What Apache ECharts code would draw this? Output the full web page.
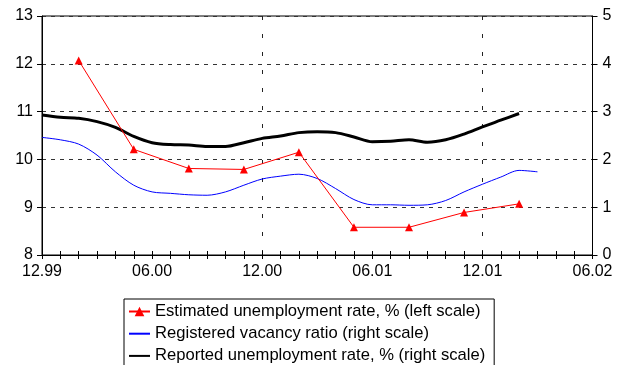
<!DOCTYPE html>
<html>
<head>
<meta charset="utf-8">
<script src="https://cdn.jsdelivr.net/npm/echarts@6/dist/echarts.min.js"></script>
<style>
  html, body { margin: 0; padding: 0; background: #fff; }
  #chart { width: 618px; height: 365px; }
</style>
</head>
<body>
<div id="chart"></div>
<script>
// Monthly categories, December 1999 to June 2002
const months = ['12.99','01.00','02.00','03.00','04.00','05.00','06.00','07.00','08.00','09.00','10.00','11.00',
  '12.00','01.01','02.01','03.01','04.01','05.01','06.01','07.01','08.01','09.01','10.01','11.01',
  '12.01','01.02','02.02','03.02','04.02','05.02','06.02'];

// Estimated unemployment rate, % (left scale)
const estimatedRate = [null, null, 12.07, null, null, 10.21, null, null, 9.81, null, null, 9.79,
  null, null, 10.15, null, null, 8.58, null, null, 8.58, null, null, 8.89,
  null, null, 9.07, null, null, null, null];

// Registered vacancy ratio (right scale)
const vacancyRatio = [2.46, 2.41, 2.32, 2.09, 1.74, 1.46, 1.32, 1.29, 1.26, 1.25, 1.32, 1.46,
  1.59, 1.65, 1.69, 1.60, 1.39, 1.16, 1.05, 1.05, 1.04, 1.05, 1.14, 1.32,
  1.48, 1.63, 1.77, 1.74, null, null, null];

// Reported unemployment rate, % (right scale)
const reportedRate = [2.93, 2.88, 2.86, 2.79, 2.67, 2.48, 2.35, 2.31, 2.30, 2.27, 2.27, 2.35,
  2.44, 2.49, 2.56, 2.58, 2.56, 2.47, 2.37, 2.38, 2.41, 2.36, 2.41, 2.53,
  2.68, 2.82, 2.96, null, null, null, null];

const seriesNames = [
  'Estimated unemployment rate, % (left scale)',
  'Registered vacancy ratio (right scale)',
  'Reported unemployment rate, % (right scale)'
];

const leftTicks = { min: 8, max: 13, interval: 1 };
const rightTicks = { min: 0, max: 5, interval: 1 };

const FONT = '"Liberation Sans", Arial, sans-serif';
const chart = echarts.init(document.getElementById('chart'), null, { renderer: 'canvas' });

// legend entries for the plain lines: hide the marker, keep the stroke
const plainLine = { itemStyle: { opacity: 0, borderWidth: 0 } };

chart.setOption({
  animation: false,
  backgroundColor: '#ffffff',
  textStyle: { fontFamily: FONT, color: '#000' },
  grid: {
    left: 42, right: 25.5, top: 16, bottom: 110,
    show: true, borderColor: '#000', borderWidth: 1, backgroundColor: 'transparent'
  },
  xAxis: [
    {
      type: 'category', data: months, boundaryGap: false, position: 'bottom',
      axisLine: { lineStyle: { color: '#000', width: 1 } },
      axisTick: { show: true, interval: 0, length: 4, lineStyle: { color: '#000' } },
      axisLabel: {
        interval: (i) => i % 6 === 0, margin: 9,
        fontFamily: FONT, fontSize: 16, color: '#000'
      },
      splitLine: {
        show: true, interval: (i) => i === 12 || i === 24,
        lineStyle: { color: '#222', type: [4, 14], width: 1 }
      }
    },
    {
      // inner half of the crossing tick marks
      type: 'category', data: months, boundaryGap: false, position: 'bottom',
      axisLine: { show: false },
      axisTick: { show: true, inside: true, interval: 0, length: 4, lineStyle: { color: '#000' } },
      axisLabel: { show: false },
      splitLine: { show: false }
    }
  ],
  yAxis: [
    {
      type: 'value', position: 'left', ...leftTicks,
      axisLine: { show: true, lineStyle: { color: '#000', width: 1 } },
      axisTick: { show: true, length: 5, lineStyle: { color: '#000' } },
      axisLabel: { fontFamily: FONT, fontSize: 16, color: '#000', margin: 9 },
      splitLine: { show: true, lineStyle: { color: '#333', type: [4, 5], width: 1 } }
    },
    {
      type: 'value', position: 'right', ...rightTicks,
      axisLine: { show: true, lineStyle: { color: '#000', width: 1 } },
      axisTick: { show: true, length: 5, lineStyle: { color: '#000' } },
      axisLabel: { fontFamily: FONT, fontSize: 16, color: '#000', margin: 10 },
      splitLine: { show: false }
    }
  ],
  legend: {
    orient: 'vertical', left: 124, top: 299, height: 120,
    padding: [4, 9, 12, 4],
    itemWidth: 21, itemHeight: 12, itemGap: 5.2,
    borderColor: '#000', borderWidth: 1, backgroundColor: '#fff',
    textStyle: { fontFamily: FONT, fontSize: 16.6, color: '#000', lineHeight: 16.5 },
    data: [
      { name: seriesNames[0] },
      Object.assign({ name: seriesNames[1] }, plainLine),
      Object.assign({ name: seriesNames[2] }, plainLine)
    ]
  },
  series: [
    {
      name: seriesNames[0],
      type: 'line', xAxisIndex: 0, yAxisIndex: 0, data: estimatedRate,
      connectNulls: true, symbol: 'triangle', symbolSize: 8, showSymbol: true,
      lineStyle: { color: '#ff0000', width: 1 },
      itemStyle: { color: '#ff0000' }, z: 4
    },
    {
      name: seriesNames[1],
      type: 'line', xAxisIndex: 0, yAxisIndex: 1, data: vacancyRatio,
      smooth: 0.3, symbol: 'none',
      lineStyle: { color: '#0000ff', width: 1 },
      itemStyle: { color: '#0000ff' }, z: 3
    },
    {
      name: seriesNames[2],
      type: 'line', xAxisIndex: 0, yAxisIndex: 1, data: reportedRate,
      smooth: 0.3, symbol: 'none',
      lineStyle: { color: '#000000', width: 3 },
      itemStyle: { color: '#000000' }, z: 3
    }
  ]
});
</script>
</body>
</html>
